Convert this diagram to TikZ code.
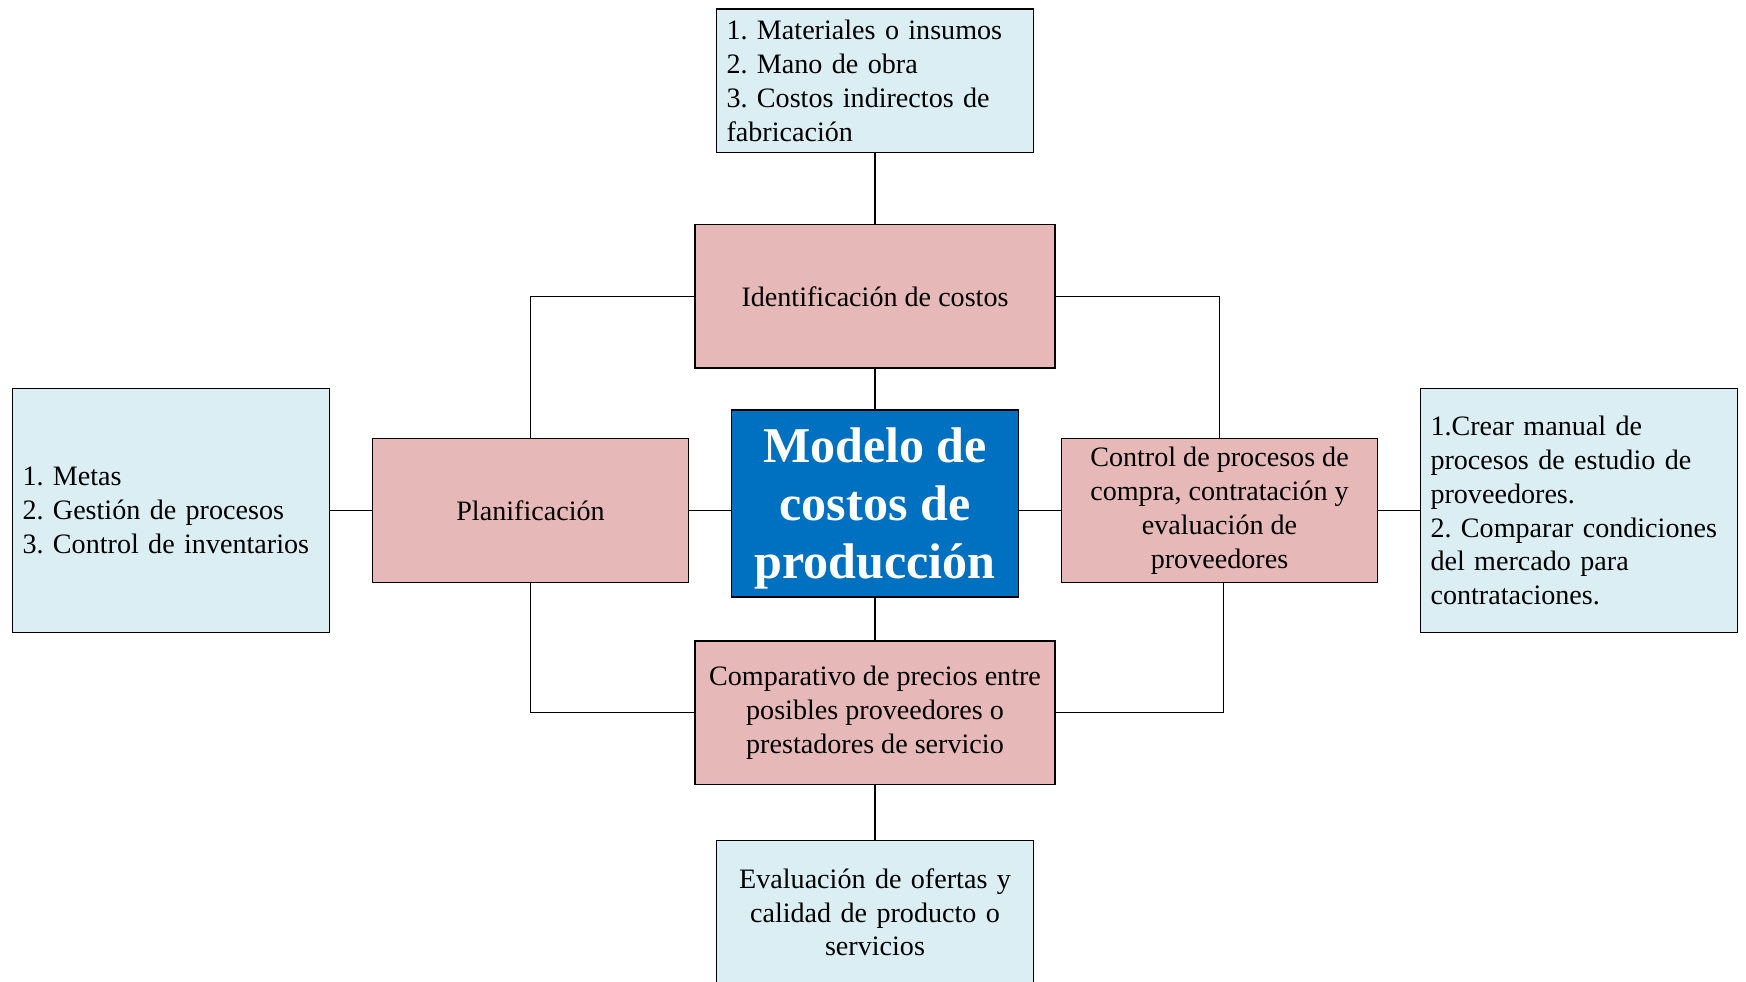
\documentclass[tikz,border=0pt]{standalone}
\usepackage{fontspec}
\setmainfont{Liberation Serif}
\usetikzlibrary{positioning}
\definecolor{pinkfill}{HTML}{E6B9B8}
\definecolor{palecyan}{HTML}{DAEEF3}
\definecolor{modelblue}{HTML}{0070C0}
\tikzset{
  node distance=0.86cm,
  box/.style={draw, line width=0.75pt, inner sep=0pt, outer sep=0pt,
    font=\fontsize{16}{19.3}\selectfont\frenchspacing},
  pinkbox/.style={box, fill=pinkfill, minimum height=2.87cm, align=center},
  listbox/.style={box, fill=palecyan, minimum width=6.34cm, text width=5.94cm, align=left},
  modelbox/.style={box, fill=modelblue, text=white, minimum width=5.74cm,
    minimum height=3.74cm, align=center, font=\fontsize{28.5}{33}\selectfont\bfseries},
  link/.style={line width=0.75pt},
}

\begin{document}
\begin{tikzpicture}
		\useasboundingbox (0,0) rectangle (34.92,-19.62);

		% central node and main branches
		\node[modelbox] (model) at (17.5,-10.07) {\rule{0pt}{0.9cm}Modelo de\\costos de\\producción};
		\node[pinkbox, minimum width=7.2cm, above=0.84cm of model] (ident) {Identificación de costos};
		\node[pinkbox, minimum width=7.2cm, below=0.88cm of model] (comp) {Comparativo de precios entre\\posibles proveedores o\\prestadores de servicio};
		\node[pinkbox, minimum width=6.32cm, left=of model, yshift=-0.14cm] (plan) {Planificación};
		\node[pinkbox, minimum width=6.32cm, right=of model, yshift=-0.14cm] (ctrl) {Control de procesos de\\compra, contratación y\\evaluación de\\proveedores};

		% detail boxes
		\node[listbox, minimum height=2.87cm, above=1.44cm of ident] (costos) {1. Materiales o insumos\\2. Mano de obra\\3. Costos indirectos de\\fabricación};
		\node[listbox, minimum height=4.88cm, left=of plan] (metas) {1. Metas\\2. Gestión de procesos\\3. Control de inventarios};
		\node[listbox, minimum height=4.88cm, right=of ctrl] (manual) {1.Crear manual de\\procesos de estudio de\\proveedores.\\2. Comparar condiciones\\del mercado para\\contrataciones.};
		\node[listbox, minimum height=2.87cm, align=center, below=1.12cm of comp] (ofertas) {Evaluación de ofertas y\\calidad de producto o\\servicios};

		% connectors
		\draw[link] (costos.south) -- (ident.north)
		(ident.south) -- (model.north)
		(model.south) -- (comp.north)
		(comp.south) -- (ofertas.north)
		(plan.west) -- (plan.west -| metas.east)
		(plan.east) -- (plan.east -| model.west)
		(ctrl.west) -- (ctrl.west -| model.east)
		(ctrl.east) -- (ctrl.east -| manual.west)
		(ident.west) -| (plan.north)
		(ident.east) -| (ctrl.north)
		(plan.south) |- (comp.west)
		([xshift=0.08cm]ctrl.south) |- (comp.east);

	\end{tikzpicture}
\end{document}
